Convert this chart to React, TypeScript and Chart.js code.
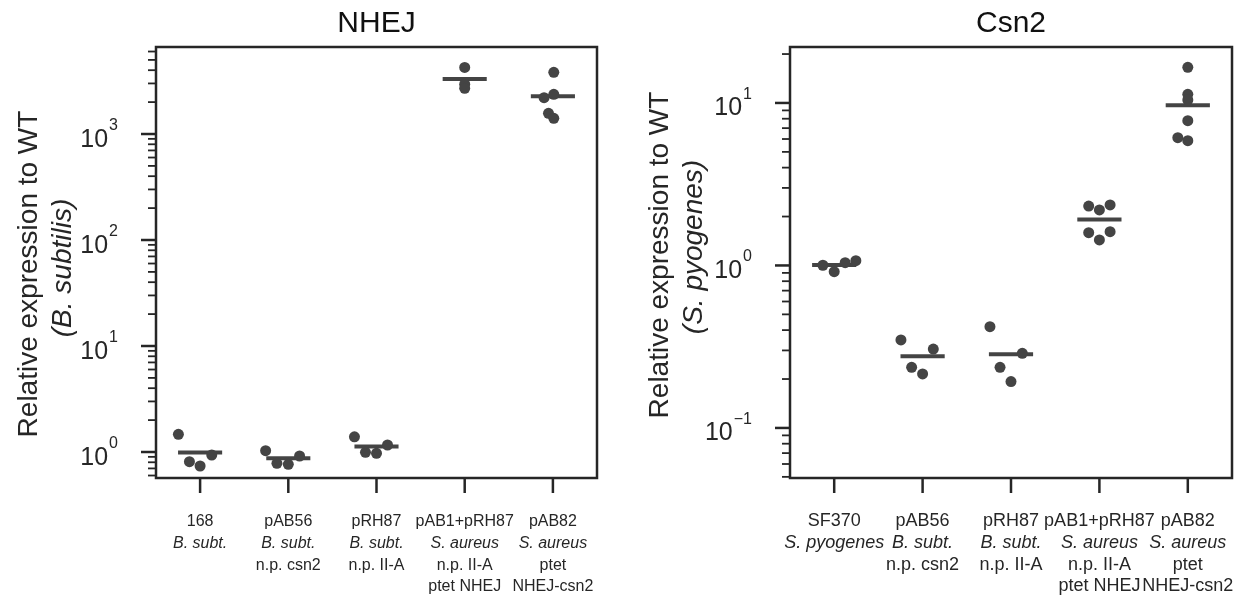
import React, { useEffect, useRef } from "react";
import { Chart, registerables } from "chart.js";
Chart.register(...registerables);

// ---------- NHEJ panel data ----------
const nhejTitle = "NHEJ";
const nhejYTitle = ["Relative expression to WT", "(B. subtilis)"];
const nhejCategories = [
  ["168", "B. subt."],
  ["pAB56", "B. subt.", "n.p. csn2"],
  ["pRH87", "B. subt.", "n.p. II-A"],
  ["pAB1+pRH87", "S. aureus", "n.p. II-A", "ptet NHEJ"],
  ["pAB82", "S. aureus", "ptet", "NHEJ-csn2"],
];
const nhejValues = [
  [1.47, 0.81, 0.738, 0.937],
  [1.03, 0.782, 0.765, 0.917],
  [1.39, 0.993, 0.972, 1.164],
  [4250, 2950, 2700],
  [3820, 2369, 2200, 1567, 1406],
];
const nhejJitter = [
  [-0.246, -0.121, 0, 0.132],
  [-0.257, -0.129, 0, 0.128],
  [-0.25, -0.125, 0, 0.125],
  [0, 0, 0],
  [0.01, 0.01, -0.1, -0.05, 0.01],
];
const nhejTickValues = [1, 10, 100, 1000];
const nhejTickExponents = ["0", "1", "2", "3"];
const nhejYMin = 0.5685;
const nhejYMax = 6620;

// ---------- Csn2 panel data ----------
const csn2Title = "Csn2";
const csn2YTitle = ["Relative expression to WT", "(S. pyogenes)"];
const csn2Categories = [
  ["SF370", "S. pyogenes"],
  ["pAB56", "B. subt.", "n.p. csn2"],
  ["pRH87", "B. subt.", "n.p. II-A"],
  ["pAB1+pRH87", "S. aureus", "n.p. II-A", "ptet NHEJ"],
  ["pAB82", "S. aureus", "ptet", "NHEJ-csn2"],
];
const csn2Values = [
  [1.003, 0.916, 1.04, 1.07],
  [0.348, 0.236, 0.215, 0.306],
  [0.42, 0.236, 0.193, 0.288],
  [2.32, 2.196, 2.357, 1.591, 1.435, 1.614],
  [16.58, 11.31, 10.43, 7.78, 6.115, 5.86],
];
const csn2Jitter = [
  [-0.128, 0, 0.124, 0.245],
  [-0.245, -0.124, 0, 0.121],
  [-0.238, -0.124, 0, 0.128],
  [-0.121, 0, 0.121, -0.121, 0, 0.121],
  [0, 0, 0, 0, -0.113, 0],
];
const csn2TickValues = [0.1, 1, 10];
const csn2TickExponents = ["\u22121", "0", "1"];
const csn2YMin = 0.0492;
const csn2YMax = 22.1;

// ---------- styles ----------
const FONT = "'Liberation Sans', Arial, sans-serif";
const DOT = "#444444";
const FRAME = "#262626";
const TEXT = "#262626";

type PanelProps = {
  offsetLeft: number;
  padLeft: number;
  padRight: number;
  title: string;
  yTitle: string[];
  categories: string[][];
  values: number[][];
  jitter: number[][];
  tickValues: number[];
  tickExponents: string[];
  yMin: number;
  yMax: number;
  yTitleX: number[];
  yTitleY: number[];
  xFontSize: number;
};

function Panel(p: PanelProps) {
  const ref = useRef<HTMLCanvasElement | null>(null);
  useEffect(() => {
    const canvas = ref.current;
    if (!canvas) return;
    const points: { x: number; y: number }[] = [];
    p.values.forEach((grp, i) =>
      grp.forEach((v, j) => points.push({ x: i + p.jitter[i][j], y: v }))
    );
    const meanSets = p.values.map((grp, i) => {
      const m = grp.reduce((a, b) => a + b, 0) / grp.length;
      return {
        data: [
          { x: i - 0.25, y: m },
          { x: i + 0.25, y: m },
        ],
        showLine: true,
        borderColor: DOT,
        borderWidth: 4,
        borderCapStyle: "butt" as const,
        pointRadius: 0,
        order: 2,
      };
    });
    const decor = {
      id: "decor",
      afterDraw(chart: any) {
        const ctx: CanvasRenderingContext2D = chart.ctx;
        const { left, right, top, bottom } = chart.chartArea;
        const xs = chart.scales.x;
        const ys = chart.scales.y;
        ctx.save();
        // frame
        ctx.strokeStyle = FRAME;
        ctx.lineWidth = 2.5;
        ctx.strokeRect(left, top, right - left, bottom - top);
        // y ticks (major + minor)
        const lmin = Math.floor(Math.log10(p.yMin));
        const lmax = Math.ceil(Math.log10(p.yMax));
        for (let d = lmin; d <= lmax; d++) {
          for (let k = 1; k <= 9; k++) {
            const v = k * Math.pow(10, d);
            if (v < p.yMin || v > p.yMax) continue;
            const py = ys.getPixelForValue(v);
            const len = k === 1 ? 15 : 8;
            ctx.lineWidth = k === 1 ? 2.5 : 1.8;
            ctx.beginPath();
            ctx.moveTo(left - len, py);
            ctx.lineTo(left, py);
            ctx.stroke();
          }
        }
        // x ticks
        ctx.lineWidth = 2.5;
        p.categories.forEach((_, i) => {
          const px = xs.getPixelForValue(i);
          ctx.beginPath();
          ctx.moveTo(px, bottom);
          ctx.lineTo(px, bottom + 15);
          ctx.stroke();
        });
        // y tick labels
        ctx.fillStyle = TEXT;
        ctx.textBaseline = "alphabetic";
        ctx.textAlign = "right";
        const labelRight = left - 38;
        p.tickValues.forEach((v, i) => {
          const py = ys.getPixelForValue(v);
          ctx.font = `16px ${FONT}`;
          const ew = ctx.measureText(p.tickExponents[i]).width;
          ctx.fillText(p.tickExponents[i], labelRight, py - 4);
          ctx.font = `25px ${FONT}`;
          ctx.fillText("10", labelRight - ew - 1, py + 12.5);
        });
        // x tick labels
        ctx.textAlign = "center";
        p.categories.forEach((lines, i) => {
          const px = xs.getPixelForValue(i);
          lines.forEach((t, j) => {
            ctx.font = `${j === 1 ? "italic " : ""}${p.xFontSize}px ${FONT}`;
            ctx.fillText(t, px, 526 + j * 21.8);
          });
        });
        // title
        ctx.fillStyle = "#111111";
        ctx.font = `30px ${FONT}`;
        ctx.fillText(p.title, (left + right) / 2, 32);
        // y title
        ctx.fillStyle = TEXT;
        p.yTitle.forEach((t, j) => {
          ctx.save();
          ctx.translate(p.yTitleX[j], p.yTitleY[j]);
          ctx.rotate(-Math.PI / 2);
          ctx.font = `${j === 1 ? "italic " : ""}28px ${FONT}`;
          ctx.textAlign = "center";
          ctx.fillText(t, 0, 0);
          ctx.restore();
        });
        ctx.restore();
      },
    };
    const chart = new Chart(canvas, {
      type: "scatter",
      data: {
        datasets: [
          {
            data: points,
            backgroundColor: DOT,
            borderWidth: 0,
            pointRadius: 5.5,
            order: 1,
          } as any,
          ...(meanSets as any[]),
        ],
      },
      options: {
        animation: false,
        responsive: false,
        devicePixelRatio: 1,
        events: [],
        layout: {
          padding: { left: p.padLeft, right: p.padRight, top: 47, bottom: 118 },
        },
        plugins: {
          legend: { display: false },
          tooltip: { enabled: false },
        },
        scales: {
          x: { type: "linear", min: -0.5, max: 4.5, display: false },
          y: { type: "logarithmic", min: p.yMin, max: p.yMax, display: false },
        },
      },
      plugins: [decor],
    });
    return () => chart.destroy();
  }, []);
  return (
    <canvas
      ref={ref}
      width={625}
      height={596}
      style={{ position: "absolute", left: p.offsetLeft, top: 0, width: 625, height: 596 }}
    />
  );
}

export default function App() {
  return (
    <div style={{ position: "absolute", left: 0, top: 0, width: 1250, height: 596, background: "#fff" }}>
      <Panel
        offsetLeft={0}
        padLeft={156}
        padRight={28}
        title={nhejTitle}
        yTitle={nhejYTitle}
        categories={nhejCategories}
        values={nhejValues}
        jitter={nhejJitter}
        tickValues={nhejTickValues}
        tickExponents={nhejTickExponents}
        yMin={nhejYMin}
        yMax={nhejYMax}
        yTitleX={[37, 71]}
        yTitleY={[274, 268]}
        xFontSize={16}
      />
      <Panel
        offsetLeft={625}
        padLeft={165}
        padRight={18}
        title={csn2Title}
        yTitle={csn2YTitle}
        categories={csn2Categories}
        values={csn2Values}
        jitter={csn2Jitter}
        tickValues={csn2TickValues}
        tickExponents={csn2TickExponents}
        yMin={csn2YMin}
        yMax={csn2YMax}
        yTitleX={[43, 77]}
        yTitleY={[255, 247]}
        xFontSize={18}
      />
    </div>
  );
}
